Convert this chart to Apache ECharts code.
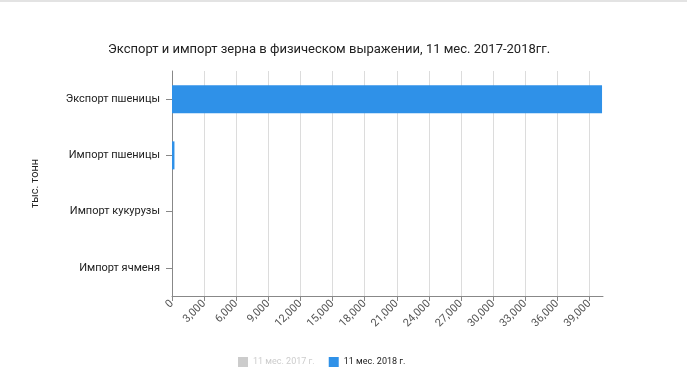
<!DOCTYPE html>
<html><head><meta charset="utf-8">
<script src="https://cdn.jsdelivr.net/npm/echarts@6/dist/echarts.min.js"></script>
<style>html,body{margin:0;padding:0;background:#fff}#c{width:687px;height:386px}</style>
</head><body><div id="c"></div>
<script>
const categories = ['Экспорт пшеницы', 'Импорт пшеницы', 'Импорт кукурузы', 'Импорт ячменя'];
const seriesNames = ['11 мес. 2017 г.', '11 мес. 2018 г.'];
const values2017 = [31000, 240, 30, 10];
const values2018 = [40180, 230, 0, 0];
const xMax = 40270;
const xInterval = 3000;

const chart = echarts.init(document.getElementById('c'));
chart.setOption({
  animation: false,
  textStyle: {fontFamily: 'Roboto'},
  graphic: [{type: 'rect', shape: {x: 0, y: 0, width: 687, height: 2}, style: {fill: '#e3e3e3'}}],
  title: {
    text: 'Экспорт и импорт зерна в физическом выражении, 11 мес. 2017-2018гг.',
    left: 103, top: 38,
    textStyle: {fontSize: 13, fontWeight: 'normal', color: '#222', fontFamily: 'Roboto'}
  },
  legend: {
    data: seriesNames,
    left: 233, top: 352,
    icon: 'rect', itemWidth: 10, itemHeight: 10, itemGap: 14, itemStyle: {borderWidth: 0},
    selected: {'11 мес. 2017 г.': false},
    inactiveColor: '#cccccc',
    textStyle: {fontSize: 9, color: '#222', fontFamily: 'Roboto'}
  },
  grid: {left: 172, right: 84, top: 71, bottom: 90, containLabel: false},
  xAxis: {
    type: 'value', min: 0, max: xMax, interval: xInterval,
    axisLine: {show: true, lineStyle: {color: '#888', width: 1}},
    axisTick: {show: true, length: 5, lineStyle: {color: '#888'}},
    axisLabel: {rotate: 45, fontSize: 11, color: '#555', margin: 6, showMaxLabel: false,
      formatter: v => v.toLocaleString('en-US')},
    splitLine: {show: true, showMaxLine: false, lineStyle: {color: '#dcdcdc'}}
  },
  yAxis: {
    type: 'category', data: categories, inverse: true,
    name: 'тыс. тонн', nameLocation: 'middle', nameGap: 131, nameRotate: 90,
    nameTextStyle: {fontSize: 11, color: '#222'},
    axisLine: {show: true, lineStyle: {color: '#888'}},
    axisTick: {show: true, alignWithLabel: true, length: 6, lineStyle: {color: '#888'}},
    axisLabel: {fontSize: 11, color: '#222', margin: 12}
  },
  series: [
    {name: seriesNames[0], type: 'bar', data: values2017, itemStyle: {color: '#cccccc'}, barWidth: 28, barGap: '0%'},
    {name: seriesNames[1], type: 'bar', data: values2018, barWidth: 28,
      itemStyle: {color: '#2f91e8', borderWidth: 0}}
  ]
});
</script></body></html>
